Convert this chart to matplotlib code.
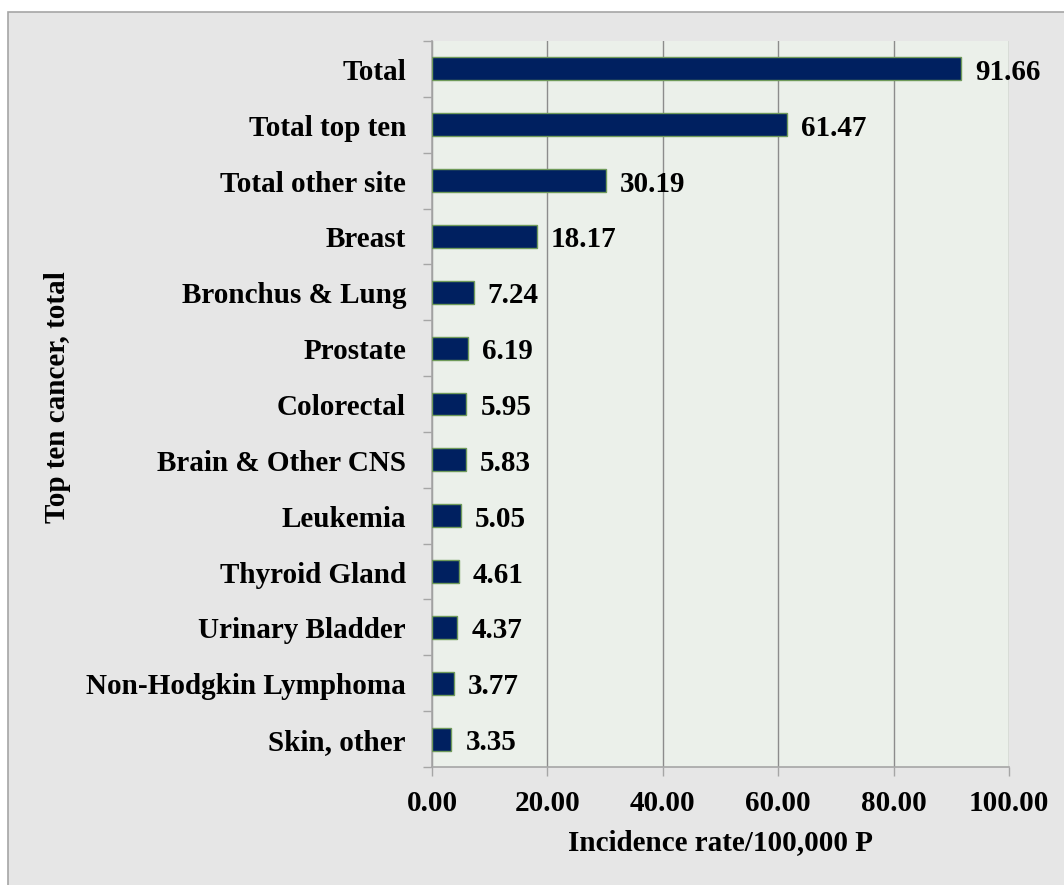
import matplotlib
matplotlib.use("Agg")
import matplotlib.pyplot as plt
from matplotlib.patches import Rectangle

categories = ["Total", "Total top ten", "Total other site", "Breast", "Bronchus & Lung",
              "Prostate", "Colorectal", "Brain & Other CNS", "Leukemia", "Thyroid Gland",
              "Urinary Bladder", "Non-Hodgkin Lymphoma", "Skin, other"]
values = [91.66, 61.47, 30.19, 18.17, 7.24, 6.19, 5.95, 5.83, 5.05, 4.61, 4.37, 3.77, 3.35]
xticks = [0, 20, 40, 60, 80, 100]

plt.rcParams['font.family'] = ['Liberation Serif', 'DejaVu Serif']
plt.rcParams['font.weight'] = 'bold'
FS = 21

W, H = 1064, 885
fig = plt.figure(figsize=(W / 100, H / 100), dpi=100)
fig.patch.set_facecolor('white')
fig.patches.append(Rectangle((8 / W, -0.01), 1.02, (873) / H + 0.01, transform=fig.transFigure,
                             facecolor='#E6E6E6', edgecolor='#A6A6A6', linewidth=1.2, zorder=-10))

ax = fig.add_axes([432 / W, 1 - 767 / H, 577 / W, 726 / H])
ax.set_facecolor('#EBF0EA')
n = len(categories)
ypos = list(range(n))
ax.barh(ypos, values, height=0.41, color='#002060', edgecolor='#6F9A5A', linewidth=1.0, zorder=3)
ax.set_ylim(n - 0.5, -0.5)
ax.set_xlim(0, 100)
ax.set_xticks(xticks)
ax.set_xticklabels([f"{v:.2f}" for v in xticks], fontsize=FS, fontweight='bold')
ax.set_yticks(ypos)
ax.set_yticklabels([])
ax.tick_params(axis='y', length=0)
ax.set_yticks([i - 0.5 for i in range(n + 1)], minor=True)
ax.tick_params(axis='y', which='minor', length=6.5, color='#A6A6A6', width=1)
ax.tick_params(axis='x', length=6.5, color='#A6A6A6', width=1, pad=10)
ax.grid(axis='x', color='#8C8C8C', linewidth=1, zorder=1)
ax.set_axisbelow(True)
for s in ['top', 'right']:
    ax.spines[s].set_visible(False)
for s in ['left', 'bottom']:
    ax.spines[s].set_color('#A6A6A6')
    ax.spines[s].set_linewidth(1.2)

for y, c in zip(ypos, categories):
    ax.annotate(c, (0, y), xycoords=('axes fraction', 'data'), xytext=(-26, -11),
                textcoords='offset pixels', ha='right', va='baseline',
                fontsize=FS, fontweight='bold', annotation_clip=False)

for y, v in zip(ypos, values):
    ax.annotate(f"{v:.2f}", (v, y), xytext=(14, -11), textcoords='offset pixels',
                ha='left', va='baseline', fontsize=FS, fontweight='bold', zorder=5,
                annotation_clip=False)

ax.set_xlabel("Incidence rate/100,000 P", fontsize=FS, fontweight='bold', va='center')
ax.xaxis.set_label_coords(0.5, (767 - 843) / 726)
ax.set_ylabel("Top ten cancer, total", fontsize=FS, fontweight='bold', va='center')
ax.yaxis.set_label_coords((57 - 432) / 577, (767 - 397) / 726)

fig.savefig("out.png", dpi=100, facecolor=fig.get_facecolor())
